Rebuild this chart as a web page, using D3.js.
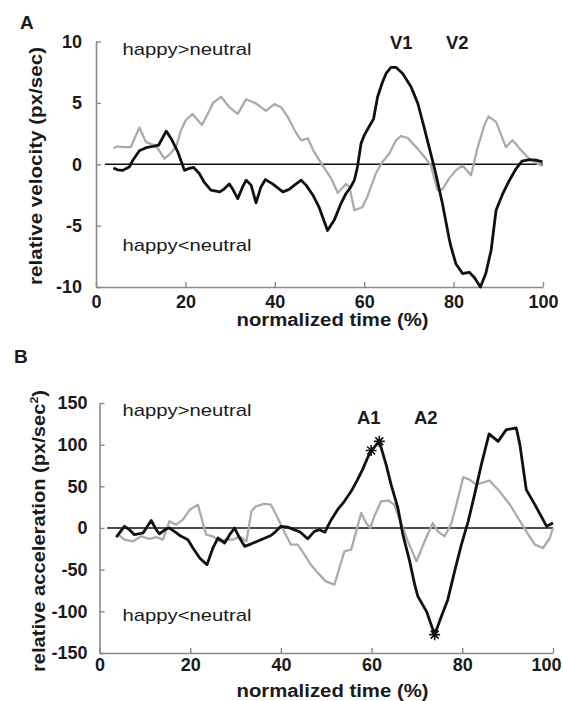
<!DOCTYPE html>
<html>
<head>
<meta charset="utf-8">
<script src="https://cdn.jsdelivr.net/npm/d3@7"></script>
<style>
  body { margin: 0; background: #fff; }
  text { font-family: "Liberation Sans", Arial, sans-serif; fill: #1a1a1a; }
</style>
</head>
<body>
<svg id="chart"></svg>
<script>
// normalized time (%) and values
const velTimeDiff = [3.9, 4.8, 6, 7.5, 8.2, 9.7, 11.2, 12.7, 14, 15.7, 16.8, 18.3, 19.8, 20.7, 21.8, 23.1, 24.2, 25.7, 27.7, 28.7, 29.8, 30.7, 31.7, 32.8, 33.6, 34.7, 35.8, 36.9, 37.9, 39.5, 41.8, 43.2, 44.4, 45.9, 47, 48.5, 49.9, 51.8, 53.3, 54.8, 55.9, 57, 57.8, 58.5, 59.3, 60, 61.3, 62.1, 63, 64.1, 64.9, 66, 67.1, 68.6, 70.5, 72, 73.4, 74.9, 76, 77.5, 79, 79.4, 80.5, 82, 83.5, 84.6, 86, 87.2, 88.4, 89.5, 91, 92.5, 94, 95.3, 97, 98.4, 99.9];
const velDiff = [-0.3, -0.45, -0.5, -0.2, 0.3, 1.1, 1.35, 1.45, 1.55, 2.7, 2.1, 1.0, -0.5, -0.35, -0.25, -0.75, -1.45, -2.1, -2.25, -2.0, -1.6, -2.1, -2.8, -1.85, -1.3, -1.7, -3.15, -1.85, -1.25, -1.6, -2.25, -2.05, -1.7, -1.3, -1.7, -2.5, -3.5, -5.4, -4.55, -3.2, -2.4, -1.85, -1.3, -0.2, 1.7, 2.35, 3.2, 3.7, 5.5, 6.7, 7.4, 7.9, 7.9, 7.4, 6.3, 4.95, 3.0, 0.85, -0.75, -3.2, -6.05, -6.7, -8.1, -8.9, -8.8, -9.2, -10.0, -8.9, -7.0, -3.75, -2.4, -1.3, -0.35, 0.25, 0.38, 0.33, 0.2];

const velTimeCtrl = [3.9, 4.8, 6, 7.8, 9.7, 11.2, 12.7, 13.8, 15.3, 16.6, 17.9, 19, 20.1, 21.6, 23.7, 25.4, 26.2, 28, 29.8, 31.7, 33.6, 35.8, 38, 39.9, 41.4, 42.9, 44.7, 45.9, 47.4, 48.8, 50.7, 52.6, 54.1, 55.9, 56.7, 57.8, 59.6, 60.7, 62.6, 64.1, 65.6, 67.1, 68.2, 69.7, 71.6, 73.5, 74.9, 76.4, 77.5, 79, 80.5, 82, 83.9, 85.4, 86.9, 87.8, 89.5, 91.7, 93.2, 95.1, 97, 98.8, 99.9];
const velCtrl = [1.3, 1.45, 1.4, 1.4, 3.0, 1.8, 1.6, 1.3, 0.45, 0.85, 1.4, 2.75, 3.6, 4.1, 3.2, 4.4, 5.0, 5.5, 4.65, 4.1, 5.3, 4.95, 4.35, 4.9, 4.65, 3.85, 2.6, 1.95, 2.1, 1.0, -0.1, -1.15, -2.35, -1.6, -1.85, -3.75, -3.5, -2.65, -0.75, 0.2, 0.85, 1.95, 2.3, 2.15, 1.4, 0.6, -0.1, -2.1, -2.05, -1.15, -0.5, -0.1, -0.9, 1.4, 3.2, 3.9, 3.45, 1.4, 1.95, 1.15, 0.4, 0.05, -0.15];

const accTimeDiff = [3.7, 5.5, 6.6, 7.7, 9.6, 11.4, 12.5, 13.2, 14.7, 15.4, 16.5, 18, 19.5, 20.6, 22.1, 23.7, 25, 26.1, 27.6, 28.7, 29.8, 30.9, 32, 33.5, 35.6, 37.8, 38.9, 40, 41.5, 42.9, 44.3, 45.9, 47.4, 48.5, 49.7, 51.1, 52.5, 54, 55.5, 56.9, 58, 59.1, 59.9, 60.6, 61.7, 63.2, 64.3, 65.8, 66.9, 68.4, 69.5, 70.2, 72.1, 73.9, 75.4, 76.8, 78.3, 79.8, 81.3, 82.7, 84.2, 85.9, 87.9, 89.7, 91.9, 92.7, 94.1, 96, 97.8, 98.6, 100];
const accDiff = [-11, 2, -2, -8, -6, 9, -2, -7, -1, 0, -4, -10, -14, -24, -36, -44, -24, -12, -18, -8, 0, -12, -22, -19, -14, -9, -4, 2, 1, -2, -5, -13, -4, -2, -5, 10, 22, 32, 44, 58, 70, 84, 93, 97, 104, 76, 52, 24, -8, -40, -68, -82, -100, -128, -106, -86, -52, -20, 8, 40, 76, 113, 104, 118, 120, 100, 46, 28, 10, 2, 6];

const accTimeCtrl = [4, 5.5, 7.4, 9.2, 11, 12.5, 14, 15.4, 16.9, 18.4, 19.9, 21.7, 23.5, 25, 26.5, 27.9, 29.4, 30.9, 32.4, 33.5, 34.5, 36.3, 37.8, 39.3, 40.7, 42.2, 43.7, 45.2, 46.6, 48.5, 49.9, 51.8, 52.9, 54, 55.5, 56.6, 57.7, 58.8, 59.7, 60.6, 62.1, 63.7, 65, 66.9, 68, 69.9, 71.7, 73.5, 74.6, 76.1, 77.6, 78.7, 80.2, 81.6, 83.1, 86, 88.2, 90.5, 92.3, 94.1, 96, 97.8, 99.3, 100];
const accCtrl = [-7, -14, -16, -10, -13, -11, -14, 8, 4, 10, 22, 28, -8, -10, -16, -14, -14, -10, -16, 20, 26, 29, 28, 12, -4, -20, -20, -32, -44, -56, -64, -68, -48, -28, -26, -4, 18, 6, 0, 14, 32, 33, 28, 0, -16, -40, -16, 6, -4, -10, 6, 28, 61, 58, 52, 57, 44, 28, 12, -4, -20, -24, -12, 0];

// peaks marked with asterisks in panel B
const accStarTime = [59.9, 61.7, 73.9];
const accStarValue = [93, 104, -128];

const xTicks = [0, 20, 40, 60, 80, 100];
const velTicks = [-10, -5, 0, 5, 10];
const accTicks = [-150, -100, -50, 0, 50, 100, 150];

const width = 563, height = 701;

const svg = d3.select("#chart")
  .attr("width", width)
  .attr("height", height);

function zip(ts, vs) {
  return ts.map((t, i) => [t, vs[i]]);
}

function drawPanel(cfg) {
  const g = svg.append("g");

  const x = d3.scaleLinear().domain([0, 100]).range(cfg.xRange);
  const y = d3.scaleLinear().domain(cfg.yDomain).range(cfg.yRange);

  // axes, MATLAB style: grey, ticks pointing in
  const xAxis = d3.axisBottom(x)
    .tickValues(xTicks)
    .tickSizeInner(-5)
    .tickSizeOuter(0)
    .tickPadding(cfg.xPad)
    .tickFormat(d => String(d));

  const yAxis = d3.axisLeft(y)
    .tickValues(cfg.yTicks)
    .tickSizeInner(-5)
    .tickSizeOuter(0)
    .tickPadding(cfg.yPad)
    .tickFormat(d => String(d));

  const gx = g.append("g")
    .attr("transform", `translate(0,${cfg.yRange[0]})`)
    .call(xAxis);
  const gy = g.append("g")
    .attr("transform", `translate(${cfg.xRange[0]},0)`)
    .call(yAxis);

  [gx, gy].forEach(a => {
    a.select(".domain").attr("stroke", "#8a8a8a").attr("stroke-width", 1.6);
    a.selectAll(".tick line").attr("stroke", "#8a8a8a").attr("stroke-width", 1.4);
    a.selectAll(".tick text")
      .attr("fill", "#1a1a1a")
      .style("font-size", "18px")
      .style("font-weight", "bold")
      .style("font-family", '"Liberation Sans", Arial, sans-serif');
  });

  // last x label pulled inside the page edge, as in the original
  gx.selectAll(".tick text")
    .filter(d => d === 100)
    .attr("dx", cfg.lastTickShift);

  // zero reference
  g.append("line")
    .attr("x1", x(cfg.zeroFrom)).attr("x2", x(100))
    .attr("y1", y(0)).attr("y2", y(0))
    .attr("stroke", "#111").attr("stroke-width", 1.4);

  const line = d3.line().x(d => x(d[0])).y(d => y(d[1]));

  g.append("path")
    .datum(cfg.ctrl)
    .attr("fill", "none")
    .attr("stroke", "#ababab")
    .attr("stroke-width", 2.3)
    .attr("stroke-linejoin", "round")
    .attr("d", line);

  g.append("path")
    .datum(cfg.diff)
    .attr("fill", "none")
    .attr("stroke", "#111")
    .attr("stroke-width", 2.8)
    .attr("stroke-linejoin", "round")
    .attr("d", line);

  if (cfg.stars) {
    const r = 5.5, q = r * 0.72;
    const star = `M${-r},0H${r}M0,${-r}V${r}M${-q},${-q}L${q},${q}M${-q},${q}L${q},${-q}`;
    g.selectAll(".star")
      .data(cfg.stars)
      .enter()
      .append("path")
      .attr("class", "star")
      .attr("transform", d => `translate(${x(d[0])},${y(d[1])})`)
      .attr("d", star)
      .attr("fill", "none")
      .attr("stroke", "#111")
      .attr("stroke-width", 1.6);
  }

  // panel letter
  g.append("text")
    .attr("x", cfg.letterPos[0]).attr("y", cfg.letterPos[1])
    .style("font-size", "19px").style("font-weight", "bold")
    .text(cfg.letter);

  // x label
  g.append("text")
    .attr("x", 332.5).attr("y", cfg.xLabelY)
    .attr("text-anchor", "middle")
    .attr("textLength", 192).attr("lengthAdjust", "spacingAndGlyphs")
    .style("font-size", "17.5px").style("font-weight", "bold")
    .text("normalized time (%)");

  // y label
  const yl = g.append("text")
    .attr("transform", `translate(${cfg.yLabelPos[0]},${cfg.yLabelPos[1]}) rotate(-90)`)
    .attr("text-anchor", "middle")
    .attr("textLength", cfg.yLabelLen).attr("lengthAdjust", "spacingAndGlyphs")
    .style("font-size", "18px").style("font-weight", "bold");
  yl.append("tspan").text(cfg.yLabel);
  if (cfg.yLabelSup) {
    yl.append("tspan").attr("dy", -7).style("font-size", "11px").text(cfg.yLabelSup);
    yl.append("tspan").attr("dy", 7).text(")");
  }

  // region notes
  cfg.notes.forEach(n => {
    g.append("text")
      .attr("x", n.x).attr("y", n.y)
      .attr("textLength", 129).attr("lengthAdjust", "spacingAndGlyphs")
      .style("font-size", "17px")
      .text(n.text);
  });

  // component labels
  cfg.peaks.forEach(p => {
    g.append("text")
      .attr("x", p.x).attr("y", p.y)
      .style("font-size", "18.5px").style("font-weight", "bold")
      .text(p.text);
  });
}

drawPanel({
  xRange: [96, 543],
  yRange: [287, 41.5],
  yDomain: [-10, 10],
  yTicks: velTicks,
  xPad: 8.5,
  yPad: 14,
  lastTickShift: 0,
  zeroFrom: 2,
  diff: zip(velTimeDiff, velDiff),
  ctrl: zip(velTimeCtrl, velCtrl),
  letter: "A",
  letterPos: [20, 28.5],
  xLabelY: 326,
  yLabel: "relative velocity (px/sec)",
  yLabelPos: [42, 166],
  yLabelLen: 238,
  notes: [
    { text: "happy>neutral", x: 122.5, y: 55 },
    { text: "happy<neutral", x: 122.5, y: 251 }
  ],
  peaks: [
    { text: "V1", x: 390, y: 49 },
    { text: "V2", x: 446, y: 49 }
  ]
});

drawPanel({
  xRange: [99.5, 553],
  yRange: [653, 403],
  yDomain: [-150, 150],
  yTicks: accTicks,
  xPad: 5.5,
  yPad: 12,
  lastTickShift: -7,
  zeroFrom: 1.7,
  diff: zip(accTimeDiff, accDiff),
  ctrl: zip(accTimeCtrl, accCtrl),
  stars: zip(accStarTime, accStarValue),
  letter: "B",
  letterPos: [14, 363],
  xLabelY: 697,
  yLabel: "relative acceleration (px/sec",
  yLabelSup: "2",
  yLabelPos: [44.5, 531],
  yLabelLen: 282,
  notes: [
    { text: "happy>neutral", x: 122.5, y: 415.5 },
    { text: "happy<neutral", x: 122.5, y: 621 }
  ],
  peaks: [
    { text: "A1", x: 357, y: 423.5 },
    { text: "A2", x: 414, y: 423.5 }
  ]
});
</script>
</body>
</html>
